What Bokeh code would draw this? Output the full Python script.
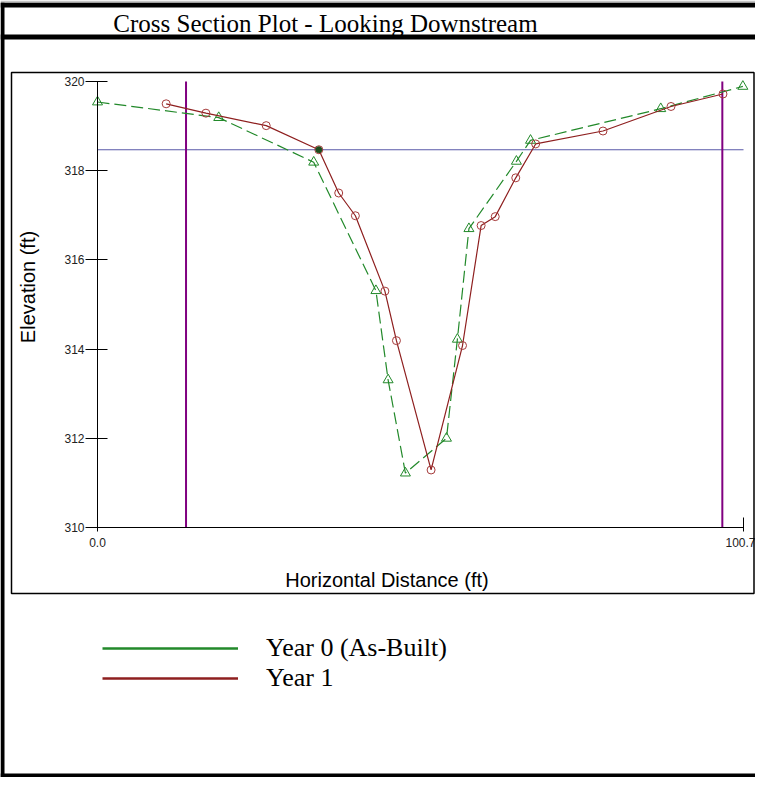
from bokeh.plotting import figure
from bokeh.models import (Range1d, LinearAxis, FixedTicker, Label, BoxAnnotation,
                          Legend, LegendItem)
from bokeh.embed import file_html
from bokeh.resources import INLINE

# ---------------- data ----------------
series_names = ["Year 0 (As-Built)", "Year 1"]

year0_station = [0.0, 18.9, 33.7, 43.4, 45.3, 48.0, 54.4, 56.1, 57.9, 65.3, 67.5, 87.8, 100.6]
year0_elev = [319.54, 319.19, 318.19, 315.31, 313.31, 311.22, 312.00, 314.22, 316.70,
              318.21, 318.68, 319.39, 319.89]

year1_station = [10.7, 16.9, 26.3, 34.5, 37.6, 40.2, 44.8, 46.6, 52.0, 56.9, 59.8, 62.0,
                 65.2, 68.3, 78.8, 89.4, 97.5]
year1_elev = [319.50, 319.29, 319.01, 318.47, 317.50, 316.99, 315.30, 314.19, 311.29,
              314.08, 316.77, 316.97, 317.84, 318.60, 318.89, 319.44, 319.72]

bankfull_elev = 318.47
bankfull_station = [34.5]
bank_stations = [13.8, 97.4]

elev_ticks = [310, 312, 314, 316, 318, 320]
dist_ticks = [0.0, 100.7]
dist_tick_labels = ["0.0", "100.7"]
x_min, x_max = 0.0, 100.7
y_min, y_max = 310.0, 320.0

title_text = "Cross Section Plot - Looking Downstream"
x_label = "Horizontal Distance (ft)"
y_label = "Elevation (ft)"

# ---------------- layout (canvas pixels) ----------------
W, H = 755, 777
AX_L, AX_R = 97, 743     # canvas x of x_min / x_max
AX_T, AX_B = 81, 527     # canvas y of y_max / y_min
sx = (AX_R - AX_L) / (x_max - x_min)
sy = (AX_B - AX_T) / (y_max - y_min)


def px_x(cx):
    return x_min + (cx - AX_L) / sx


def px_y(cy):
    return y_max - (cy - AX_T) / sy


GREEN = "#22892a"
RED = "#8e1f1f"
RED_MK = "#a53a3a"
PURPLE = "#800080"
BLUE = "#5858a8"

p = figure(width=W, height=H,
           x_range=Range1d(px_x(0), px_x(W)), y_range=Range1d(px_y(H), px_y(0)),
           x_axis_type=None, y_axis_type=None,
           toolbar_location=None, output_backend="svg", min_border=0)
p.outline_line_color = None
p.background_fill_color = "white"
p.border_fill_color = "white"

# ---------------- axes ----------------
yaxis = LinearAxis(fixed_location=x_min, bounds=(y_min, y_max),
                   ticker=FixedTicker(ticks=elev_ticks))
xaxis = LinearAxis(fixed_location=y_min, bounds=(x_min, x_max),
                   ticker=FixedTicker(ticks=dist_ticks),
                   major_label_overrides={t: s for t, s in zip(dist_ticks, dist_tick_labels)})
for ax in (xaxis, yaxis):
    ax.axis_line_color = "black"
    ax.axis_line_width = 1
    ax.major_tick_line_color = "black"
    ax.minor_tick_line_color = None
    ax.major_label_text_font = "Liberation Sans"
    ax.major_label_text_font_size = "12px"
    ax.major_label_text_color = "#222222"
yaxis.major_tick_in = 10
yaxis.major_tick_out = 12
yaxis.major_label_standoff = 1
xaxis.major_tick_in = 10
xaxis.major_tick_out = 4
xaxis.major_label_standoff = 6
p.add_layout(yaxis, "left")
p.add_layout(xaxis, "below")

# ---------------- reference lines ----------------
p.line(x=[x_min, x_max], y=[bankfull_elev, bankfull_elev], line_color=BLUE, line_width=1.2)
p.segment(x0=bank_stations, x1=bank_stations, y0=[y_min] * len(bank_stations),
          y1=[y_max] * len(bank_stations), line_color=PURPLE, line_width=2)

# ---------------- series ----------------
p.line(year0_station, year0_elev, line_color=GREEN, line_width=1.2, line_dash="12 5")
p.scatter(year0_station, year0_elev, marker="triangle", size=10, fill_color=None,
          line_color=GREEN, line_width=1)
p.line(year1_station, year1_elev, line_color=RED, line_width=1.2)
p.scatter(year1_station, year1_elev, marker="circle", size=8, fill_color=None,
          line_color=RED_MK, line_width=1)
p.scatter(bankfull_station, [bankfull_elev], marker="circle", size=6,
          fill_color="#1d4d1d", line_color="#1d4d1d")

# ---------------- legend ----------------
# single-vertex lines: nothing visible in the plot, but a sample in the legend
r0 = p.line(x=[x_min], y=[y_min], line_color=GREEN, line_width=2.5)
r1 = p.line(x=[x_min], y=[y_min], line_color=RED, line_width=2.5)
LEG_X = 102
ROW_H = 30
LEG_BOTTOM = 692.5
legend = Legend(items=[LegendItem(label=series_names[0], renderers=[r0]),
                       LegendItem(label=series_names[1], renderers=[r1])],
                location=(LEG_X, H - LEG_BOTTOM), orientation="vertical",
                glyph_width=136, glyph_height=ROW_H, label_height=ROW_H, label_standoff=28,
                spacing=0, padding=0, margin=0,
                border_line_color=None, background_fill_alpha=0,
                label_text_font="Liberation Serif", label_text_font_size="26px",
                label_text_color="black")
p.add_layout(legend)

# ---------------- frame decorations ----------------
def bar(l, r, t, b, color="black"):
    return BoxAnnotation(left=px_x(l), right=px_x(r), top=px_y(t), bottom=px_y(b),
                         fill_color=color, fill_alpha=1, line_color=None)


for bx in (bar(0, W, 0, 2.3, "#c4c4c4"), bar(0, W, 2.3, 7), bar(0, W, 34, 39),
           bar(0, 4, 2.3, H), bar(0, W, 773, H)):
    p.add_layout(bx)

p.add_layout(BoxAnnotation(left=px_x(11), right=px_x(753.5), top=px_y(72), bottom=px_y(593),
                           fill_alpha=0, line_color="black", line_width=1.5, line_alpha=1))

# ---------------- texts ----------------
p.add_layout(Label(x=px_x(325), y=px_y(22.5), text=title_text, text_align="center",
                   text_baseline="alphabetic", text_font="Liberation Serif",
                   text_font_size="25px", text_color="black"))
p.add_layout(Label(x=px_x(386.5), y=px_y(579), text=x_label, text_align="center",
                   text_baseline="alphabetic", text_font="Liberation Sans",
                   text_font_size="20px", text_color="black"))
p.add_layout(Label(x=px_x(27.5), y=px_y(286.5), text=y_label, text_align="center",
                   text_baseline="middle", angle=1.5707963, text_font="Liberation Sans",
                   text_font_size="20px", text_color="black"))

open("out.html", "w").write(file_html(p, INLINE))
